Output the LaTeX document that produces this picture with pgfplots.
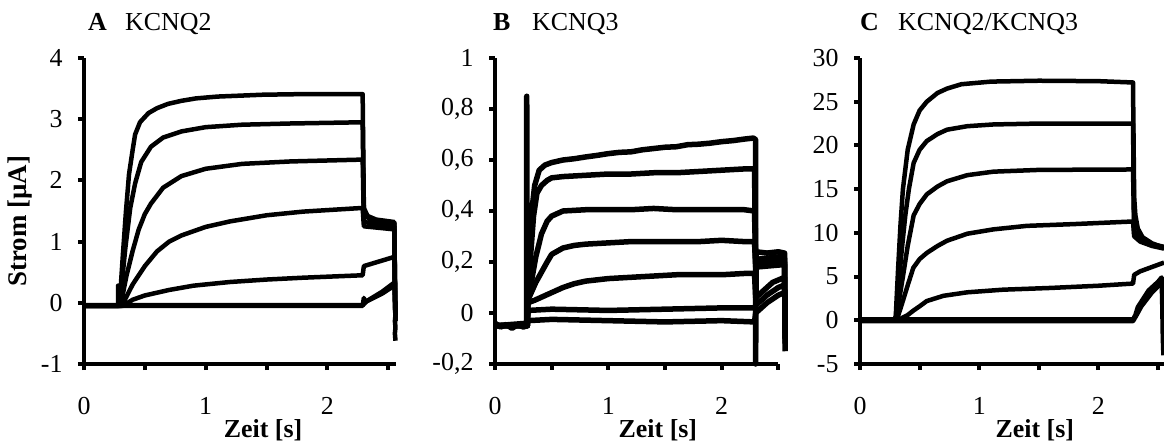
\documentclass[border=0pt]{standalone}
\usepackage{fontspec}
\setmainfont{Liberation Serif}
\usepackage{pgfplots}
\pgfplotsset{compat=1.18}
\pgfplotscreateplotcyclelist{thicklist}{black,solid,mark=none,line width=4.5bp,line join=round\\}
\pgfplotscreateplotcyclelist{noisylist}{black,solid,mark=none,line width=5.5bp,line join=round\\}
\pgfplotsset{
  kstyle/.style={
    scale only axis,
    axis lines=left,
    axis line style={-, line width=4.5bp},
    tick align=outside,
    major tick length=6bp,
    tick style={line width=4bp, black},
    clip=false,
    xmin=0,
    xtick={0,0.5,1,1.5,2,2.5},
    xticklabels={0,,1,,2,},
    tick label style={font=\fontsize{26}{26}\selectfont},
    xticklabel style={anchor=base, yshift=-44bp},
    yticklabel style={anchor=east, xshift=-12bp},
    xlabel={\textbf{Zeit [s]}},
    xlabel style={font=\fontsize{26}{26}\selectfont, at={(axis description cs:0.575,0)}, anchor=base, yshift=-73bp},
    no markers,
    cycle list name=thicklist,
  }
}
\begin{document}
\begin{tikzpicture}
\useasboundingbox (0,0) rectangle (1164bp,447bp);
% ---------------- A
\begin{axis}[kstyle, at={(84bp,83bp)}, anchor=south west,
  width=311.5bp, height=306bp, xmax=2.56, ymin=-1, ymax=4,
  ytick={-1,0,1,2,3,4}, yticklabels={-1,0,1,2,3,4},
  ylabel={\textbf{Strom [µA]}},
  ylabel style={font=\fontsize{27}{27}\selectfont, at={(axis description cs:-0.205,0.467)}, anchor=center}]
\addplot coordinates {(0,-0.05)(0.28,-0.05)(0.28,0.28)(0.285,0.05)(0.3,0.2)(0.32,0.8)(0.345,1.5)(0.37,2.1)(0.4,2.5)(0.42,2.75)(0.46,2.95)(0.53,3.1)(0.6,3.18)(0.69,3.25)(0.8,3.3)(0.92,3.34)(1.1,3.37)(1.47,3.4)(1.8,3.41)(2.29,3.41)(2.3,1.55)(2.33,1.42)(2.4,1.36)(2.55,1.32)(2.555,-0.1)(2.56,-0.2)(2.555,-0.3)(2.56,-0.4)(2.555,-0.5)(2.56,-0.62)};
\addplot coordinates {(0,-0.05)(0.29,-0.05)(0.3,0.05)(0.32,0.5)(0.34,0.9)(0.38,1.55)(0.42,1.95)(0.47,2.3)(0.55,2.55)(0.65,2.7)(0.8,2.8)(1.0,2.87)(1.3,2.91)(1.7,2.93)(2.29,2.95)(2.3,1.45)(2.35,1.36)(2.55,1.3)(2.56,-0.3)};
\addplot coordinates {(0,-0.05)(0.3,-0.05)(0.31,0.05)(0.35,0.45)(0.4,0.85)(0.45,1.2)(0.5,1.45)(0.55,1.62)(0.65,1.88)(0.8,2.07)(1.0,2.19)(1.3,2.27)(1.7,2.31)(2.29,2.34)(2.3,1.32)(2.55,1.25)(2.56,-0.3)};
\addplot coordinates {(0,-0.05)(0.31,-0.05)(0.4,0.3)(0.5,0.6)(0.6,0.84)(0.7,1.0)(0.8,1.1)(1.0,1.24)(1.2,1.33)(1.5,1.43)(1.8,1.49)(2.29,1.55)(2.3,1.25)(2.55,1.2)(2.56,-0.3)};
\addplot coordinates {(0,-0.05)(0.32,-0.05)(0.4,0.05)(0.5,0.12)(0.7,0.21)(0.9,0.28)(1.2,0.34)(1.5,0.38)(1.8,0.41)(2.29,0.45)(2.3,0.6)(2.4,0.66)(2.55,0.75)(2.56,-0.2)};
\addplot coordinates {(0,-0.05)(2.29,-0.05)(2.3,0.08)(2.31,0.01)(2.35,0.06)(2.45,0.18)(2.55,0.33)(2.56,-0.2)};
\addplot coordinates {(0,-0.04)(2.29,-0.04)(2.32,0.02)(2.45,0.15)(2.55,0.28)};
\end{axis}
% ---------------- B
\begin{axis}[kstyle, at={(495bp,83bp)}, anchor=south west,
  width=283.3bp, height=306bp, xmax=2.5, ymin=-0.2, ymax=1,
  ytick={-0.2,0,0.2,0.4,0.6,0.8,1}, yticklabels={{-0,2},{0},{0,2},{0,4},{0,6},{0,8},{1}},
  cycle list name=noisylist]
\addplot coordinates {(0,-0.04)(0.05,-0.055)(0.1,-0.045)(0.15,-0.06)(0.2,-0.045)(0.25,-0.055)(0.28,-0.05)(0.28,0.85)(0.283,0.06)(0.3,0.2)(0.32,0.38)(0.35,0.5)(0.39,0.56)(0.44,0.58)(0.5,0.59)(0.6,0.6)(0.7,0.605)(0.8,0.612)(0.9,0.618)(1.0,0.625)(1.1,0.63)(1.2,0.632)(1.3,0.64)(1.4,0.645)(1.5,0.65)(1.6,0.652)(1.7,0.66)(1.8,0.662)(1.9,0.666)(2.0,0.672)(2.1,0.676)(2.2,0.682)(2.28,0.686)(2.3,0.68)(2.3,-0.2)(2.305,0.24)(2.4,0.235)(2.5,0.24)(2.555,0.235)(2.56,-0.15)};
\addplot coordinates {(0,-0.05)(0.285,-0.05)(0.29,0.07)(0.31,0.2)(0.34,0.38)(0.37,0.47)(0.41,0.5)(0.46,0.52)(0.5,0.53)(0.6,0.535)(0.8,0.54)(1.0,0.545)(1.2,0.545)(1.4,0.55)(1.6,0.55)(1.8,0.555)(2.0,0.56)(2.2,0.565)(2.29,0.565)(2.3,0.21)(2.4,0.215)(2.5,0.22)(2.555,0.215)(2.56,-0.12)};
\addplot coordinates {(0,-0.05)(0.285,-0.05)(0.29,0.06)(0.32,0.12)(0.36,0.22)(0.41,0.31)(0.46,0.36)(0.5,0.38)(0.55,0.39)(0.6,0.4)(0.8,0.405)(1.0,0.405)(1.2,0.405)(1.4,0.41)(1.6,0.405)(1.8,0.405)(2.0,0.405)(2.2,0.405)(2.29,0.4)(2.3,0.2)(2.555,0.2)(2.56,-0.1)};
\addplot coordinates {(0,-0.05)(0.285,-0.05)(0.29,0.05)(0.31,0.07)(0.36,0.12)(0.41,0.16)(0.46,0.2)(0.5,0.23)(0.6,0.255)(0.7,0.265)(0.8,0.27)(1.0,0.275)(1.2,0.28)(1.4,0.28)(1.6,0.28)(1.8,0.28)(2.0,0.285)(2.2,0.28)(2.29,0.28)(2.3,0.18)(2.555,0.19)(2.56,-0.1)};
\addplot coordinates {(0,-0.05)(0.285,-0.05)(0.29,0.04)(0.35,0.05)(0.4,0.06)(0.5,0.08)(0.6,0.1)(0.7,0.115)(0.8,0.125)(1.0,0.135)(1.2,0.14)(1.4,0.145)(1.6,0.15)(1.8,0.15)(2.0,0.15)(2.2,0.155)(2.29,0.155)(2.3,0.06)(2.35,0.08)(2.45,0.12)(2.53,0.135)(2.555,0.14)(2.56,-0.05)};
\addplot coordinates {(0,-0.05)(0.285,-0.05)(0.29,0.01)(0.5,0.015)(1.0,0.01)(1.5,0.015)(2.0,0.02)(2.29,0.02)(2.3,0.03)(2.4,0.07)(2.5,0.1)(2.555,0.11)};
\addplot coordinates {(0,-0.05)(0.285,-0.04)(0.29,-0.03)(0.5,-0.025)(1.0,-0.03)(1.5,-0.035)(2.0,-0.03)(2.29,-0.035)(2.3,0.0)(2.4,0.04)(2.5,0.07)(2.555,0.08)};
\end{axis}
% ---------------- C
\begin{axis}[kstyle, at={(860bp,83bp)}, anchor=south west,
  width=304bp, height=306bp, xmax=2.55, ymin=-5, ymax=30,
  ytick={-5,0,5,10,15,20,25,30}, yticklabels={-5,0,5,10,15,20,25,30}]
\addplot coordinates {(0,0.1)(0.29,0.1)(0.3,0.5)(0.32,6)(0.34,11)(0.36,15)(0.4,19.5)(0.45,22.4)(0.5,24)(0.56,25)(0.65,26)(0.73,26.5)(0.85,27)(1.1,27.3)(1.5,27.4)(2.0,27.35)(2.29,27.2)(2.295,20)(2.3,14)(2.31,12)(2.33,10.5)(2.37,9.5)(2.45,8.8)(2.55,8.3)};
\addplot coordinates {(0,0.1)(0.3,0.1)(0.32,3.5)(0.35,8)(0.38,12)(0.41,15)(0.45,18)(0.5,19.5)(0.56,20.5)(0.65,21.3)(0.73,21.8)(0.9,22.2)(1.12,22.4)(1.5,22.5)(2.29,22.5)(2.3,10.2)(2.35,9.3)(2.45,8.7)(2.55,8.4)};
\addplot coordinates {(0,0.1)(0.3,0.1)(0.33,2.5)(0.36,5)(0.4,8.5)(0.45,12)(0.5,13.3)(0.56,14.4)(0.65,15.3)(0.73,15.9)(0.9,16.6)(1.12,17.0)(1.5,17.2)(2.29,17.25)(2.3,9.8)(2.35,9.1)(2.45,8.6)(2.55,8.3)};
\addplot coordinates {(0,0.1)(0.31,0.1)(0.35,1.8)(0.4,4)(0.447,6)(0.5,7)(0.56,7.7)(0.65,8.5)(0.73,9.1)(0.9,9.9)(1.12,10.4)(1.4,10.8)(1.79,11.0)(2.29,11.3)(2.3,9.6)(2.35,9.0)(2.45,8.5)(2.55,8.2)};
\addplot coordinates {(0,0.1)(0.33,0.1)(0.4,0.6)(0.447,1.1)(0.5,1.6)(0.56,2.2)(0.7,2.8)(0.9,3.2)(1.2,3.5)(1.6,3.7)(2.0,3.95)(2.29,4.2)(2.3,5.2)(2.35,5.6)(2.45,6.1)(2.55,6.6)};
\addplot coordinates {(0,0.1)(2.29,0.1)(2.31,0.6)(2.33,1.5)(2.42,3.4)(2.5,4.4)(2.53,4.9)(2.535,2)(2.54,-2)(2.545,-4)};
\addplot coordinates {(0,-0.1)(2.29,-0.1)(2.32,0.6)(2.36,1.6)(2.45,3.2)(2.545,4.5)};
\end{axis}
% ---------------- titles
\begin{scope}[every node/.style={inner sep=0pt, anchor=base west, font=\fontsize{26}{26}\selectfont}]
\node at (88bp,416bp) {\textbf{A}};
\node at (125bp,416bp) {KCNQ2};
\node at (493bp,416bp) {\textbf{B}};
\node at (532bp,416bp) {KCNQ3};
\node at (860bp,416bp) {\textbf{C}};
\node at (898bp,416bp) {KCNQ2/KCNQ3};
\end{scope}
\end{tikzpicture}
\end{document}
